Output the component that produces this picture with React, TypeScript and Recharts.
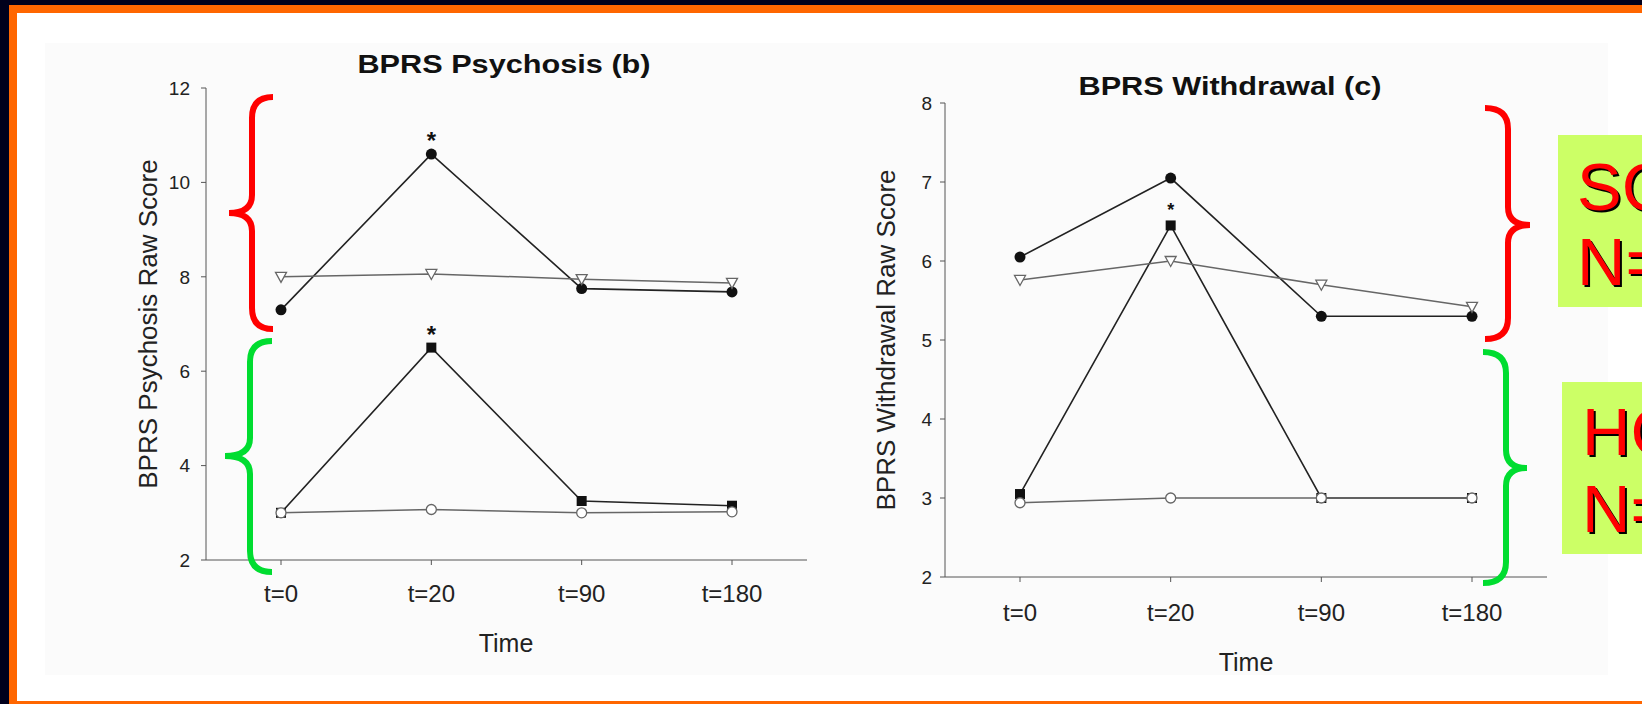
import { LineChart, Line, XAxis, YAxis, LabelList } from "recharts";

const FONT = "'Liberation Sans', Arial, Helvetica, sans-serif";

const timePoints = ["t=0", "t=20", "t=90", "t=180"];

// BPRS Psychosis (b)
const psychTicks = [2, 4, 6, 8, 10, 12];
const psychScActive = [7.3, 10.6, 7.75, 7.68];
const psychScPlacebo = [8.0, 8.06, 7.95, 7.87];
const psychHcActive = [3.0, 6.5, 3.25, 3.15];
const psychHcPlacebo = [3.0, 3.07, 3.0, 3.02];
const psychScStars = ["", "*", "", ""];
const psychHcStars = ["", "*", "", ""];

// BPRS Withdrawal (c)
const wdTicks = [2, 3, 4, 5, 6, 7, 8];
const wdScActive = [6.05, 7.05, 5.3, 5.3];
const wdScPlacebo = [5.76, 6.0, 5.7, 5.42];
const wdHcActive = [3.05, 6.45, 3.0, 3.0];
const wdHcPlacebo = [2.94, 3.0, 3.0, 3.0];
const wdScStars = ["", "", "", ""];
const wdHcStars = ["", "*", "", ""];

const psychRows = timePoints.map((t, i) => ({
  t,
  scActive: psychScActive[i],
  scPlacebo: psychScPlacebo[i],
  hcActive: psychHcActive[i],
  hcPlacebo: psychHcPlacebo[i],
  scStar: psychScStars[i],
  hcStar: psychHcStars[i],
}));

const wdRows = timePoints.map((t, i) => ({
  t,
  scActive: wdScActive[i],
  scPlacebo: wdScPlacebo[i],
  hcActive: wdHcActive[i],
  hcPlacebo: wdHcPlacebo[i],
  scStar: wdScStars[i],
  hcStar: wdHcStars[i],
}));

const filledCircle = (p: any) => (
  <circle key={`fc-${p.index}`} cx={p.cx} cy={p.cy} r={5.5} fill="#111" />
);
const openCircle = (p: any) => (
  <circle key={`oc-${p.index}`} cx={p.cx} cy={p.cy} r={5} fill="#fff" stroke="#666" strokeWidth={1.3} />
);
const filledSquare = (p: any) => (
  <rect key={`fs-${p.index}`} x={p.cx - 5} y={p.cy - 5} width={10} height={10} fill="#111" />
);
const openTriangle = (p: any) => (
  <polygon
    key={`ot-${p.index}`}
    points={`${p.cx - 5.5},${p.cy - 4.5} ${p.cx + 5.5},${p.cy - 4.5} ${p.cx},${p.cy + 5.5}`}
    fill="#fff"
    stroke="#666"
    strokeWidth={1.3}
  />
);

const starLabel = (size: number, gap: number) => (p: any) => {
  if (!p.value) return null;
  return (
    <text
      key={`star-${p.index}`}
      x={p.x}
      y={p.y - gap}
      textAnchor="middle"
      fontSize={size}
      fontWeight="bold"
      fontFamily={FONT}
      fill="#111"
    >
      {p.value}
    </text>
  );
};

type PanelProps = {
  rows: any[];
  ticks: number[];
  left: number;
  top: number;
  width: number;
  height: number;
  margin: { top: number; right: number; bottom: number; left: number };
  yWidth: number;
  yTickMargin: number;
  xTickMargin: number;
  starSize: number;
  starGap: number;
};

function ScorePanel(props: PanelProps) {
  const { rows, ticks } = props;
  const domain = [ticks[0], ticks[ticks.length - 1]];
  const pad = { left: 75, right: 75 };
  return (
    <div style={{ position: "absolute", left: props.left, top: props.top }}>
      <LineChart width={props.width} height={props.height} data={rows} margin={props.margin}>
        <XAxis
          dataKey="t"
          padding={pad}
          height={60}
          tickSize={5}
          tickMargin={props.xTickMargin}
          axisLine={{ stroke: "#555" }}
          tickLine={{ stroke: "#555" }}
          tick={{ fontSize: 24, fill: "#222", fontFamily: FONT }}
        />
        <XAxis
          xAxisId="top"
          orientation="top"
          dataKey="t"
          padding={pad}
          height={0}
          tick={false}
          tickLine={false}
          axisLine={{ stroke: "#aaa" }}
        />
        <YAxis
          type="number"
          domain={domain}
          ticks={ticks}
          width={props.yWidth}
          tickSize={5}
          tickMargin={props.yTickMargin}
          axisLine={{ stroke: "#555" }}
          tickLine={{ stroke: "#555" }}
          tick={{ fontSize: 19, fill: "#222", fontFamily: FONT }}
        />
        <YAxis
          yAxisId="right"
          orientation="right"
          type="number"
          domain={[0, 1]}
          width={0}
          tick={false}
          tickLine={false}
          axisLine={{ stroke: "#aaa" }}
        />
        <Line dataKey="hcActive" stroke="#222" strokeWidth={1.6} dot={filledSquare} isAnimationActive={false}>
          <LabelList dataKey="hcStar" content={starLabel(props.starSize, props.starGap)} />
        </Line>
        <Line dataKey="scActive" stroke="#222" strokeWidth={1.6} dot={filledCircle} isAnimationActive={false}>
          <LabelList dataKey="scStar" content={starLabel(props.starSize, props.starGap)} />
        </Line>
        <Line dataKey="hcPlacebo" stroke="#666" strokeWidth={1.5} dot={openCircle} isAnimationActive={false} />
        <Line dataKey="scPlacebo" stroke="#666" strokeWidth={1.5} dot={openTriangle} isAnimationActive={false} />
      </LineChart>
    </div>
  );
}

const leftBrace = (x: number, top: number, tip: number, bottom: number, depth: number, stem: number) =>
  `M ${x} ${top} Q ${stem} ${top} ${stem} ${top + 21} L ${stem} ${tip - 18} Q ${stem} ${tip} ${depth} ${tip} Q ${stem} ${tip} ${stem} ${tip + 18} L ${stem} ${bottom - 21} Q ${stem} ${bottom} ${x} ${bottom}`;

export default function App() {
  return (
    <div
      style={{
        position: "absolute",
        left: 0,
        top: 0,
        width: 1642,
        height: 704,
        overflow: "hidden",
        background: "#00001c",
        fontFamily: FONT,
      }}
    >
      <div style={{ position: "absolute", left: 9, top: 5, right: 0, bottom: 0, background: "#ff6600" }} />
      <div style={{ position: "absolute", left: 17, top: 13, right: 0, height: 688, background: "#ffffff" }} />
      <div style={{ position: "absolute", left: 45, top: 43, width: 1563, height: 632, background: "#fbfbfb" }} />

      <ScorePanel
        rows={psychRows}
        ticks={psychTicks}
        left={100}
        top={60}
        width={740}
        height={560}
        margin={{ top: 28, right: 33, bottom: 0, left: 0 }}
        yWidth={106}
        yTickMargin={11}
        xTickMargin={20}
        starSize={24}
        starGap={5}
      />
      <ScorePanel
        rows={wdRows}
        ticks={wdTicks}
        left={840}
        top={75}
        width={740}
        height={562}
        margin={{ top: 28, right: 33, bottom: 0, left: 0 }}
        yWidth={105}
        yTickMargin={8}
        xTickMargin={22}
        starSize={18}
        starGap={9}
      />

      <div style={{ position: "absolute", left: 1558, top: 135, width: 200, height: 172, background: "#ccff66" }} />
      <div style={{ position: "absolute", left: 1562, top: 382, width: 200, height: 172, background: "#ccff66" }} />

      <svg
        width={1642}
        height={704}
        style={{ position: "absolute", left: 0, top: 0, pointerEvents: "none" }}
        fontFamily={FONT}
      >
        <text transform="translate(504,73) scale(1.18,1)" textAnchor="middle" fontSize={26} fontWeight="bold" fill="#111">
          BPRS Psychosis (b)
        </text>
        <text transform="translate(1230,95) scale(1.18,1)" textAnchor="middle" fontSize={26} fontWeight="bold" fill="#111">
          BPRS Withdrawal (c)
        </text>
        <text transform="translate(157,324) rotate(-90)" textAnchor="middle" fontSize={26} fill="#222">
          BPRS Psychosis Raw Score
        </text>
        <text transform="translate(895,340) rotate(-90)" textAnchor="middle" fontSize={26} fill="#222">
          BPRS Withdrawal Raw Score
        </text>
        <text x={506} y={652} textAnchor="middle" fontSize={25} fill="#222">
          Time
        </text>
        <text x={1246} y={671} textAnchor="middle" fontSize={25} fill="#222">
          Time
        </text>

        <g fill="none" strokeWidth={6}>
          <path d={leftBrace(273, 97, 213, 329, 229, 252)} stroke="#ff0000" />
          <path d={leftBrace(272, 341, 456, 572, 225, 250)} stroke="#00dd30" />
          <path d={leftBrace(1485, 108, 225, 339, 1530, 1508)} stroke="#ff0000" />
          <path d={leftBrace(1483, 352, 468, 583, 1527, 1506)} stroke="#00dd30" />
        </g>

        <g fontSize={67}>
          <text x={1579} y={212} fill="#000">SC</text>
          <text x={1577} y={210} fill="#ff0000">SC</text>
          <text x={1579} y={287} fill="#000">N=</text>
          <text x={1577} y={285} fill="#ff0000">N=</text>
          <text x={1584} y={457} fill="#000">HC</text>
          <text x={1582} y={455} fill="#ff0000">HC</text>
          <text x={1584} y={534} fill="#000">N=</text>
          <text x={1582} y={532} fill="#ff0000">N=</text>
        </g>
      </svg>
    </div>
  );
}
